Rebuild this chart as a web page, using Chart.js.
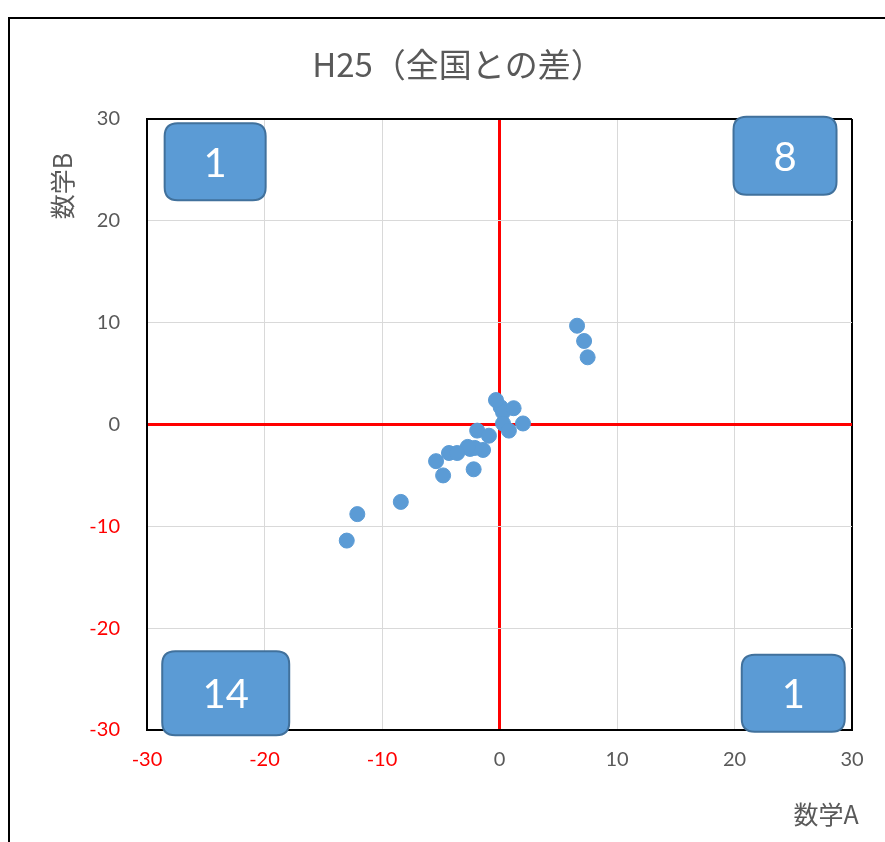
<!DOCTYPE html>
<html>
<head>
<meta charset="utf-8">
<script src="https://cdn.jsdelivr.net/npm/chart.js@4/dist/chart.umd.min.js"></script>
<style>
  html, body { margin: 0; padding: 0; background: #fff; }
  #wrap { width: 885px; height: 842px; }
</style>
</head>
<body>
<div id="wrap"><canvas id="chart" width="885" height="842"></canvas></div>
<script>
// values (difference from national average)
const mathA = [6.6, 7.2, 7.5, 0.1, 0.3, 1.2, 2.0, 0.3, -0.3, 0.8,
  -1.9, -0.9, -2.5, -1.4, -2.1, -2.7, -4.3, -3.6, -5.4, -4.8, -2.2, -8.4, -12.1, -13.0];
const mathB = [9.7, 8.2, 6.6, 1.7, 1.2, 1.6, 0.1, 0.1, 2.4, -0.6,
  -0.6, -1.1, -2.4, -2.5, -2.3, -2.2, -2.8, -2.8, -3.6, -5.0, -4.4, -7.6, -8.8, -11.4];
const quadrantCounts = [1, 8, 14, 1]; // upper-left, upper-right, lower-left, lower-right
const axisTicks = [-30, -20, -10, 0, 10, 20, 30];

const points = mathA.map((a, i) => ({ x: a, y: mathB[i] }));
const gray = '#595959';
const tickFont = { family: 'Lato, "Open Sans", sans-serif', size: 20 };

function gridColor(c){
  const v = c.tick.value;
  if (v === 0) return '#ff0000';
  if (v === 30) return '#000000';
  return '#d9d9d9';
}
function gridWidth(c){
  const v = c.tick.value;
  if (v === 0) return 3;
  if (v === 30) return 2;
  return 1;
}
function tickColor(c){ return c.tick.value < 0 ? '#ff0000' : gray; }

// quadrant boxes: centre in data units, size in px
const boxes = [
  { x: -24.2, y: 25.8, w: 101, h: 77 },
  { x: 24.3, y: 26.4, w: 103, h: 78 },
  { x: -23.3, y: -26.4, w: 127, h: 84 },
  { x: 25.0, y: -26.4, w: 103, h: 77 }
];

function roundRect(ctx, x, y, w, h, r){
  ctx.beginPath();
  ctx.moveTo(x + r, y);
  ctx.lineTo(x + w - r, y);
  ctx.quadraticCurveTo(x + w, y, x + w, y + r);
  ctx.lineTo(x + w, y + h - r);
  ctx.quadraticCurveTo(x + w, y + h, x + w - r, y + h);
  ctx.lineTo(x + r, y + h);
  ctx.quadraticCurveTo(x, y + h, x, y + h - r);
  ctx.lineTo(x, y + r);
  ctx.quadraticCurveTo(x, y, x + r, y);
  ctx.closePath();
}

const decor = {
  id: 'decor',
  beforeDraw(chart){
    const ctx = chart.ctx;
    ctx.save();
    ctx.fillStyle = '#fff';
    ctx.fillRect(0, 0, chart.width, chart.height);
    // outer frame (left and top edges visible)
    ctx.strokeStyle = '#000';
    ctx.lineWidth = 2;
    ctx.beginPath();
    ctx.moveTo(9, chart.height);
    ctx.lineTo(9, 18);
    ctx.lineTo(chart.width, 18);
    ctx.stroke();
    // title
    ctx.fillStyle = gray;
    ctx.textAlign = 'center';
    ctx.textBaseline = 'middle';
    ctx.font = '33px "Noto Sans CJK JP", sans-serif';
    ctx.fillText('H25（全国との差）', 458, 64);
    // axis titles
    ctx.font = '25px "Noto Sans CJK JP", sans-serif';
    ctx.fillText('数学A', 826, 814);
    ctx.translate(62, 186);
    ctx.rotate(-Math.PI / 2);
    ctx.fillText('数学B', 0, 0);
    ctx.restore();
  },
  afterDatasetsDraw(chart){
    const ctx = chart.ctx;
    const sx = chart.scales.x, sy = chart.scales.y;
    ctx.save();
    boxes.forEach((b, i) => {
      const cx = sx.getPixelForValue(b.x), cy = sy.getPixelForValue(b.y);
      roundRect(ctx, cx - b.w / 2, cy - b.h / 2, b.w, b.h, 13);
      ctx.fillStyle = '#5b9bd5';
      ctx.fill();
      ctx.strokeStyle = '#41719c';
      ctx.lineWidth = 2;
      ctx.stroke();
      ctx.fillStyle = '#fff';
      ctx.font = '40px Lato, "Open Sans", sans-serif';
      ctx.textAlign = 'center';
      ctx.textBaseline = 'middle';
      ctx.fillText(String(quadrantCounts[i]), cx, cy + 2);
    });
    ctx.restore();
  }
};

new Chart(document.getElementById('chart'), {
  type: 'scatter',
  data: {
    datasets: [{
      label: 'H25',
      data: points,
      backgroundColor: '#5b9bd5',
      borderColor: '#5b9bd5',
      pointRadius: 7.5,
      pointHoverRadius: 7.5
    }]
  },
  options: {
    responsive: false,
    animation: false,
    events: [],
    layout: { padding: { top: 119, right: 33, left: 0, bottom: 0 } },
    plugins: { legend: { display: false }, tooltip: { enabled: false }, title: { display: false } },
    scales: {
      x: {
        type: 'linear', min: -30, max: 30,
        afterBuildTicks: s => { s.ticks = axisTicks.map(v => ({ value: v })); },
        afterFit: s => { s.height = 112; },
        grid: { color: gridColor, lineWidth: gridWidth, drawTicks: false },
        border: { display: true, color: '#000', width: 2 },
        ticks: { color: tickColor, font: tickFont, padding: 18 }
      },
      y: {
        type: 'linear', min: -30, max: 30,
        afterBuildTicks: s => { s.ticks = axisTicks.map(v => ({ value: v })); },
        afterFit: s => { s.width = 147; },
        grid: { color: gridColor, lineWidth: gridWidth, drawTicks: false },
        border: { display: true, color: '#000', width: 2 },
        ticks: { color: tickColor, font: tickFont, padding: 27 }
      }
    }
  },
  plugins: [decor]
});
</script>
</body>
</html>
